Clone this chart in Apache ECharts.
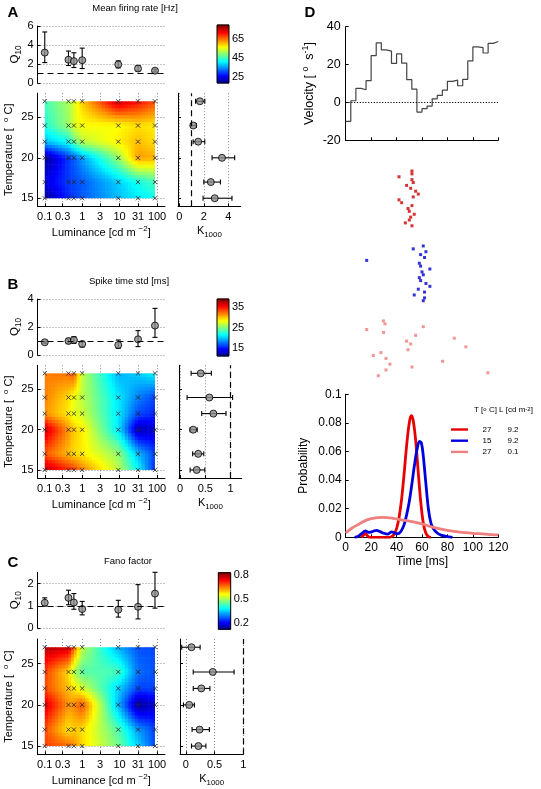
<!DOCTYPE html>
<html><head><meta charset="utf-8">
<script src="https://cdn.jsdelivr.net/npm/echarts@6.0.0/dist/echarts.min.js"></script>
<style>html,body{margin:0;padding:0;background:#fff}#chart{width:541px;height:789px}</style>
</head><body><div id="chart"></div>
<script>
// ================= DATA =================
const luminance = [0.1, 0.43, 0.6, 1, 9.2, 31, 88];
const temperature = [15, 17, 20, 22, 24, 27];
const lumTickValues = [0.1, 0.3, 1, 3, 10, 31, 100];

// A: mean firing rate [Hz]; rows = temperature (15..27), cols = luminance
const rateMap = [
  [20, 29, 30, 32, 38, 41, 43],
  [25, 30, 31, 32, 39, 43, 46],
  [20, 30, 32, 36, 51, 63, 62],
  [38, 43, 48, 53, 58, 61, 59],
  [44, 51, 55, 57, 57, 59, 58],
  [46, 52, 55, 60, 76, 72, 68]
];
const rateQ10 = [3.2, 2.45, 2.3, 2.4, 1.95, 1.52, 1.3];
const rateQ10Low = [2.15, 1.84, 1.63, 1.52, 1.59, 1.27, 1.17];
const rateQ10High = [5.37, 3.36, 3.18, 3.67, 2.33, 1.84, 1.45];
const rateK = [2.89, 2.57, 3.48, 1.54, 1.14, 1.68];
const rateKLow = [1.94, 2.0, 2.67, 1.13, 0.92, 1.33];
const rateKHigh = [4.29, 3.35, 4.51, 2.08, 1.4, 2.08];
const rateCbarRange = [19, 80];
const rateCbarTicks = [25, 45, 65];
const rateQ10Ticks = [0, 2, 4, 6];
const rateKTicks = [0, 2, 4];

// B: spike time std [ms]
const stdMap = [
  [37.6, 34.5, 34, 32, 26.7, 21.6, 15.5],
  [33, 30.3, 29.5, 29, 25.6, 19.7, 16.3],
  [37, 31.4, 30, 29, 21, 12.4, 13.2],
  [31.4, 29, 27.8, 27.2, 21, 16.6, 15.5],
  [32, 29.5, 28, 26.7, 21, 18, 16.3],
  [32, 32.5, 33.4, 26.7, 19.4, 20.2, 21.4]
];
const stdQ10 = [0.91, 1.0, 1.07, 0.79, 0.71, 1.12, 2.1];
const stdQ10Low = [0.84, 0.84, 0.83, 0.57, 0.48, 0.6, 1.26];
const stdQ10High = [0.97, 1.14, 1.31, 0.93, 1.07, 1.74, 3.33];
const stdK = [0.33, 0.36, 0.26, 0.66, 0.58, 0.41];
const stdKLow = [0.2, 0.25, 0.2, 0.43, 0.14, 0.22];
const stdKHigh = [0.49, 0.47, 0.34, 0.91, 1.04, 0.62];
const stdCbarRange = [11, 39];
const stdCbarTicks = [15, 25, 35];
const stdQ10Ticks = [0, 2, 4];
const stdKTicks = [0, 0.5, 1];

// C: Fano factor
const fanoMap = [
  [0.70, 0.67, 0.65, 0.59, 0.47, 0.36, 0.26],
  [0.69, 0.58, 0.60, 0.59, 0.445, 0.32, 0.26],
  [0.77, 0.64, 0.65, 0.69, 0.34, 0.14, 0.18],
  [0.69, 0.61, 0.58, 0.54, 0.36, 0.26, 0.26],
  [0.70, 0.59, 0.51, 0.45, 0.44, 0.29, 0.27],
  [0.795, 0.78, 0.68, 0.52, 0.33, 0.27, 0.26]
];
const fanoQ10 = [1.14, 1.36, 1.15, 0.86, 0.83, 0.96, 1.55];
const fanoQ10Low = [1.0, 1.05, 0.85, 0.6, 0.5, 0.42, 0.9];
const fanoQ10High = [1.36, 1.7, 1.55, 1.2, 1.25, 1.95, 2.5];
const fanoK = [0.22, 0.24, 0.06, 0.27, 0.47, 0.10];
const fanoKLow = [0.10, 0.11, -0.04, 0.13, 0.13, -0.07];
const fanoKHigh = [0.35, 0.41, 0.15, 0.42, 0.84, 0.25];
const fanoCbarRange = [0.125, 0.83];
const fanoCbarTicks = [0.2, 0.5, 0.8];
const fanoQ10Ticks = [0, 1, 2];
const fanoKTicks = [0, 0.5, 1];

// D: stimulus velocity (4 ms bins)
const velBinStart = [0,4,8,12,16,20,24,28,32,36,40,44,48,52,56,60,64,68,72,76,80,84,88,92,96,100,104,108,112,116];
const velBinEnd = 120;
const velocity = [-10.0, 0.9, 7.4, 6.7, 11.5, 24.7, 31.5, 27.8, 27.1, 20.6, 25.6, 20.8, 12.0, 7.0, -5.1, -3.3, -1.9, 1.9, 3.7, 6.5, 11.1, 11.8, 8.8, 12.2, 21.9, 29.3, 28.9, 26.1, 31.2, 32.2];

// D: raster, first-spike times [ms] per trial
const spikesWarmBright = [52.1, 52.1, 41.9, 52.1, 53.1, 47.9, 51.1, 55.0, 57.1, 53.1, 41.9, 44.0, 52.1, 49.0, 50.0, 53.9, 51.1, 50.0, 46.9, 52.1];
const spikesColdBright = [61.0, 53.1, 63.1, 58.9, 62.0, 16.5, 57.9, 58.9, 66.2, 60.0, 61.0, 57.9, 58.9, 63.1, 66.2, 57.1, 62.0, 53.9, 62.0, 61.0];
const spikesWarmDim = [29.6, 30.9, 61.0, 16.5, 29.8, 55.0, 85.4, 47.9, 51.1, 94.5, 49.0, 27.7, 21.7, 31.7, 76.2, 34.8, 52.1, 31.7, 111.8, 25.6];
const rowsWarmBright = [0,1,2,3,4,5,6,7,8,9,10,11,12,13,14,15,16,17,18,19];
const rowsColdBright = [26,27,28,29,30,31,32,33,34,35,36,37,38,39,40,41,42,43,44,45];
const rowsWarmDim = [52,53,54,55,56,57,58,59,60,61,62,63,64,65,66,67,68,69,70,71];

// D: spike-time probability
const probTimeWarmBright = [12, 14, 15.5, 17, 19, 35, 36, 38, 40, 42, 44, 46, 48, 50, 51.5, 53, 55, 57, 59, 61, 63, 65, 67];
const probWarmBright = [0, 0.0015, 0.0025, 0.0012, 0, 0, 0.0005, 0.002, 0.006, 0.014, 0.027, 0.045, 0.065, 0.080, 0.085, 0.082, 0.068, 0.046, 0.025, 0.010, 0.003, 0.0005, 0];
const probTimeColdBright = [7, 10, 13, 15.5, 18, 21, 24, 27, 30, 33, 36, 38, 40, 42, 44, 46, 48, 50, 52, 54, 56, 58, 59.5, 61, 63, 65, 67, 69, 72, 75, 79, 84];
const probColdBright = [0, 0.0008, 0.003, 0.0045, 0.0035, 0.004, 0.0048, 0.004, 0.0028, 0.0022, 0.0038, 0.0033, 0.0025, 0.0028, 0.005, 0.009, 0.016, 0.025, 0.037, 0.050, 0.061, 0.067, 0.066, 0.057, 0.038, 0.020, 0.010, 0.006, 0.003, 0.0015, 0.0006, 0];
const probTimeWarmDim = [0, 5, 10, 15, 20, 25, 30, 35, 40, 45, 50, 55, 60, 65, 70, 75, 80, 85, 90, 95, 100, 105, 110, 115, 120];
const probWarmDim = [0.003, 0.0065, 0.009, 0.0115, 0.013, 0.0138, 0.014, 0.0136, 0.0128, 0.012, 0.0113, 0.0105, 0.0094, 0.008, 0.0067, 0.0057, 0.0048, 0.0041, 0.0036, 0.0032, 0.0028, 0.0025, 0.0022, 0.0019, 0.0017];
const legendT = ['27', '15', '27'];
const legendL = ['9.2', '9.2', '0.1'];

// ================= STYLE / LAYOUT =================
const FONT = 'Liberation Sans';
const LUM_MIN = 0.064, LUM_MAX = 163;
const panels = [
  {letter:'A', title:'Mean firing rate [Hz]', map:rateMap, q10:rateQ10, q10Lo:rateQ10Low, q10Hi:rateQ10High, k:rateK, kLo:rateKLow, kHi:rateKHigh,
   cbar:rateCbarRange, cbarTicks:rateCbarTicks, q10Ticks:rateQ10Ticks, q10Max:6, kTicks:rateKTicks, kMin:-0.1, kMax:5,
   L:{letter:[13,13], title:[135,8], q10:[26,57], heat:[93.2,113.1], k:[178,62.7], cb:[217,25,12,58]}},
  {letter:'B', title:'Spike time std [ms]', map:stdMap, q10:stdQ10, q10Lo:stdQ10Low, q10Hi:stdQ10High, k:stdK, kLo:stdKLow, kHi:stdKHigh,
   cbar:stdCbarRange, cbarTicks:stdCbarTicks, q10Ticks:stdQ10Ticks, q10Max:4, kTicks:stdKTicks, kMin:-0.02, kMax:1.22,
   L:{letter:[13,285], title:[129,281.5], q10:[299,56], heat:[365.3,112.7], k:[179,62.7], cb:[217,299,12,57]}},
  {letter:'C', title:'Fano factor', map:fanoMap, q10:fanoQ10, q10Lo:fanoQ10Low, q10Hi:fanoQ10High, k:fanoK, kLo:fanoKLow, kHi:fanoKHigh,
   cbar:fanoCbarRange, cbarTicks:fanoCbarTicks, q10Ticks:fanoQ10Ticks, q10Max:2.5, kTicks:fanoKTicks, kMin:-0.1, kMax:1.0,
   L:{letter:[13,563], title:[128,561], q10:[572.3,56], heat:[639,115.3], k:[180,63.3], cb:[218.3,572.7,12.4,56.6]}}
];

function jet(t) {
  t = Math.max(0, Math.min(1, t));
  const c = v => Math.round(255 * Math.max(0, Math.min(1, v)));
  return 'rgb(' + c(1.5 - Math.abs(4*t - 3)) + ',' + c(1.5 - Math.abs(4*t - 2)) + ',' + c(1.5 - Math.abs(4*t - 1)) + ')';
}
const rich = fs => ({
  sub: {fontSize: fs*0.72, lineHeight: fs*0.72, verticalAlign: 'bottom', fontFamily: FONT, color: '#000'},
  sup: {fontSize: fs*0.72, lineHeight: fs*0.72, verticalAlign: 'top', fontFamily: FONT, color: '#000'}
});
const nameStyle = (fs, lh) => ({fontSize: fs, lineHeight: lh, color: '#000', fontFamily: FONT, rich: rich(fs)});
const AX = {color: '#000', width: 1};
const labelStyle = (fs, margin) => ({fontSize: fs, color: '#000', fontFamily: FONT, margin: margin});
const dotted = {show: true, lineStyle: {type: [1, 2], color: '#8a8a8a', width: 1}};
const fmtNum = v => String(+(+v).toPrecision(3));

const grids = [], xAxes = [], yAxes = [], series = [], graphic = [];
function addGrid(left, top, width, height) {
  grids.push({left, top, width, height, containLabel: false, outerBoundsMode: 'none'});
  return grids.length - 1;
}

function vErr(gi, xs, lo, hi) {
  return {type: 'custom', xAxisIndex: gi, yAxisIndex: gi, silent: true, z: 3,
    data: xs.map((x, i) => [x, lo[i], hi[i]]), encode: {x: 0, y: [1, 2]},
    renderItem: (p, api) => {
      const a = api.coord([api.value(0), api.value(1)]), b = api.coord([api.value(0), api.value(2)]);
      const st = {stroke: '#000', lineWidth: 1.1};
      return {type: 'group', children: [
        {type: 'line', shape: {x1: a[0], y1: a[1], x2: b[0], y2: b[1]}, style: st},
        {type: 'line', shape: {x1: a[0]-2.5, y1: a[1], x2: a[0]+2.5, y2: a[1]}, style: st},
        {type: 'line', shape: {x1: b[0]-2.5, y1: b[1], x2: b[0]+2.5, y2: b[1]}, style: st}]};
    }};
}
function hErr(gi, ys, lo, hi) {
  return {type: 'custom', xAxisIndex: gi, yAxisIndex: gi, silent: true, z: 3,
    data: ys.map((y, i) => [lo[i], hi[i], y]), encode: {x: [0, 1], y: 2},
    renderItem: (p, api) => {
      const a = api.coord([api.value(0), api.value(2)]), b = api.coord([api.value(1), api.value(2)]);
      const st = {stroke: '#000', lineWidth: 1.1};
      return {type: 'group', children: [
        {type: 'line', shape: {x1: a[0], y1: a[1], x2: b[0], y2: b[1]}, style: st},
        {type: 'line', shape: {x1: a[0], y1: a[1]-2.5, x2: a[0], y2: a[1]+2.5}, style: st},
        {type: 'line', shape: {x1: b[0], y1: b[1]-2.5, x2: b[0], y2: b[1]+2.5}, style: st}]};
    }};
}
const pointStyle = {color: '#8c8c8c', borderColor: '#000', borderWidth: 1};

panels.forEach(P => {
  const L = P.L;
  // ---- Q10 ----
  const gQ = addGrid(37.5, L.q10[0], 127.5, L.q10[1]);
  xAxes.push({type: 'log', logBase: 10, gridIndex: gQ, min: LUM_MIN, max: LUM_MAX,
    axisLine: {show: false}, axisTick: {show: false}, axisLabel: {show: false}, splitLine: {show: false}});
  yAxes.push({type: 'value', gridIndex: gQ, min: 0, max: P.q10Max,
    axisLine: {show: true, lineStyle: AX}, axisTick: {show: true, inside: true, length: 3, lineStyle: AX, customValues: P.q10Ticks},
    axisLabel: Object.assign(labelStyle(11, 4), {customValues: P.q10Ticks, formatter: fmtNum}),
    splitLine: dotted,
    name: 'Q{sub|10}', nameLocation: 'middle', nameRotate: 90, nameGap: 14.5, nameTextStyle: nameStyle(11.5, 16)});
  series.push(vErr(gQ, luminance, P.q10Lo, P.q10Hi));
  series.push({type: 'scatter', xAxisIndex: gQ, yAxisIndex: gQ, z: 4, silent: true, symbol: 'circle', symbolSize: 7,
    itemStyle: pointStyle, data: luminance.map((l, i) => [l, P.q10[i]]),
    markLine: {silent: true, symbol: ['none', 'none'], label: {show: false}, animation: false,
      lineStyle: {type: [6, 4], color: '#000', width: 1.2}, data: [{yAxis: 1}]}});

  // ---- heatmap ----
  const gH = addGrid(37.5, L.heat[0], 127.5, L.heat[1]);
  xAxes.push({type: 'log', logBase: 10, gridIndex: gH, min: LUM_MIN, max: LUM_MAX,
    axisLine: {show: true, lineStyle: AX}, axisTick: {show: true, inside: true, length: 3, lineStyle: AX, customValues: lumTickValues},
    axisLabel: Object.assign(labelStyle(11, 5), {customValues: lumTickValues, formatter: fmtNum}),
    splitLine: dotted,
    name: 'Luminance [cd m {sup|−2}]', nameLocation: 'middle', nameGap: 19, nameTextStyle: nameStyle(11, 16)});
  yAxes.push({type: 'value', gridIndex: gH, min: 14, max: 28,
    axisLine: {show: true, lineStyle: AX}, axisTick: {show: true, inside: true, length: 3, lineStyle: AX, customValues: [15, 20, 25]},
    axisLabel: Object.assign(labelStyle(11, 4), {customValues: [15, 20, 25]}),
    splitLine: dotted,
    name: 'Temperature [  {sup|o} C]', nameLocation: 'middle', nameRotate: 90, nameGap: 14.5, nameTextStyle: nameStyle(11, 16)});
  const cells = [];
  temperature.forEach((t, r) => luminance.forEach((l, c) => cells.push([l, t, P.map[r][c], c, r])));
  const map = P.map, cb = P.cbar;
  series.push({type: 'custom', xAxisIndex: gH, yAxisIndex: gH, silent: true, z: 2, data: cells, encode: {x: 0, y: 1},
    renderItem: (params, api) => {
      const c = api.value(3), r = api.value(4);
      if (c >= luminance.length - 1 || r >= temperature.length - 1) return;
      const v00 = map[r][c], v10 = map[r][c+1], v01 = map[r+1][c], v11 = map[r+1][c+1];
      const p0 = api.coord([luminance[c], temperature[r]]), p1 = api.coord([luminance[c+1], temperature[r+1]]);
      const nx = Math.max(1, Math.round(Math.abs(p1[0] - p0[0]) / 3.3));
      const ny = Math.max(1, Math.round(Math.abs(p1[1] - p0[1]) / 3.3));
      const lastC = c === luminance.length - 2, lastR = r === temperature.length - 2;
      const children = [];
      for (let i = 0; i < nx; i++) for (let j = 0; j < ny; j++) {
        const fx = (i + 0.5) / nx, fy = (j + 0.5) / ny;
        const v = (1-fx)*(1-fy)*v00 + fx*(1-fy)*v10 + (1-fx)*fy*v01 + fx*fy*v11;
        const xa = p0[0] + (p1[0]-p0[0]) * i / nx, xb = p0[0] + (p1[0]-p0[0]) * (i+1) / nx;
        const ya = p0[1] + (p1[1]-p0[1]) * j / ny, yb = p0[1] + (p1[1]-p0[1]) * (j+1) / ny;
        const ox = (lastC && i === nx-1) ? 0 : 0.6, oy = (lastR && j === ny-1) ? 0 : 0.6;
        children.push({type: 'rect', shape: {x: Math.min(xa, xb), y: Math.min(ya, yb) - oy, width: Math.abs(xb-xa) + ox, height: Math.abs(yb-ya) + oy},
          style: {fill: jet((v - cb[0]) / (cb[1] - cb[0]))}});
      }
      return {type: 'group', children};
    }});
  series.push({type: 'custom', xAxisIndex: gH, yAxisIndex: gH, silent: true, z: 3, data: cells.map(d => [d[0], d[1]]), encode: {x: 0, y: 1},
    renderItem: (params, api) => {
      const p = api.coord([api.value(0), api.value(1)]);
      const st = {stroke: '#222', lineWidth: 0.8};
      const s = 2.1;
      return {type: 'group', children: [
        {type: 'line', shape: {x1: p[0]-s, y1: p[1]-s, x2: p[0]+s, y2: p[1]+s}, style: st},
        {type: 'line', shape: {x1: p[0]-s, y1: p[1]+s, x2: p[0]+s, y2: p[1]-s}, style: st}]};
    }});

  // ---- K1000 ----
  const gK = addGrid(L.k[0], L.heat[0], L.k[1], L.heat[1]);
  xAxes.push({type: 'value', gridIndex: gK, min: P.kMin, max: P.kMax,
    axisLine: {show: true, onZero: false, lineStyle: AX}, axisTick: {show: true, inside: true, length: 3, lineStyle: AX, customValues: P.kTicks},
    axisLabel: Object.assign(labelStyle(11, 5), {customValues: P.kTicks, formatter: fmtNum}),
    splitLine: dotted,
    name: 'K{sub|1000}', nameLocation: 'middle', nameGap: 16, nameTextStyle: nameStyle(11, 16)});
  yAxes.push({type: 'value', gridIndex: gK, min: 14, max: 28,
    axisLine: {show: true, onZero: false, lineStyle: AX}, axisTick: {show: true, inside: true, length: 3, lineStyle: AX, customValues: [15, 20, 25]},
    axisLabel: {show: false}, splitLine: {show: false}});
  series.push(hErr(gK, temperature, P.kLo, P.kHi));
  series.push({type: 'scatter', xAxisIndex: gK, yAxisIndex: gK, z: 4, silent: true, symbol: 'circle', symbolSize: 7,
    itemStyle: pointStyle, data: temperature.map((t, i) => [P.k[i], t]),
    markLine: {silent: true, symbol: ['none', 'none'], label: {show: false}, animation: false,
      lineStyle: {type: [6, 4], color: '#000', width: 1.2}, data: [{xAxis: 1}]}});

  // ---- colorbar ----
  const gC = addGrid(L.cb[0], L.cb[1], L.cb[2], L.cb[3]);
  xAxes.push({type: 'value', gridIndex: gC, min: 0, max: 1, show: false});
  yAxes.push({type: 'value', gridIndex: gC, min: cb[0], max: cb[1], position: 'right',
    axisLine: {show: false}, axisTick: {show: false, customValues: P.cbarTicks},
    axisLabel: Object.assign(labelStyle(11, 3), {customValues: P.cbarTicks, formatter: fmtNum}), splitLine: {show: false}});
  series.push({type: 'custom', xAxisIndex: gC, yAxisIndex: gC, silent: true, z: 2, data: [[0, 1, cb[0], cb[1]]], encode: {x: [0, 1], y: [2, 3]},
    renderItem: (params, api) => {
      const lo = api.value(2), hi = api.value(3), n = 48, children = [];
      const a = api.coord([api.value(0), lo]), b = api.coord([api.value(1), hi]);
      for (let i = 0; i < n; i++) {
        const y0 = a[1] + (b[1] - a[1]) * i / n, y1 = a[1] + (b[1] - a[1]) * (i + 1) / n;
        children.push({type: 'rect', shape: {x: a[0], y: Math.min(y0, y1) - 0.4, width: b[0] - a[0], height: Math.abs(y1 - y0) + 0.8},
          style: {fill: jet((i + 0.5) / n)}});
      }
      children.push({type: 'rect', shape: {x: a[0], y: b[1], width: b[0] - a[0], height: a[1] - b[1]}, style: {fill: 'none', stroke: '#000', lineWidth: 1}});
      return {type: 'group', children};
    }});

  graphic.push({type: 'text', x: L.letter[0], y: L.letter[1], style: {text: P.letter, fontSize: 15, fontWeight: 'bold', fontFamily: FONT, fill: '#000', align: 'center', verticalAlign: 'middle'}});
  graphic.push({type: 'text', x: L.title[0], y: L.title[1], style: {text: P.title, fontSize: 9.5, fontFamily: FONT, fill: '#000', align: 'center', verticalAlign: 'middle'}});
});

// ---- D: velocity ----
const T_LEFT = 345.7, T_WIDTH = 152.6;
const gV = addGrid(T_LEFT, 26.7, T_WIDTH, 113.6);
xAxes.push({type: 'value', gridIndex: gV, min: 0, max: 120, interval: 20,
  axisLine: {show: true, onZero: false, lineStyle: AX}, axisTick: {show: true, inside: true, length: 3, lineStyle: AX},
  axisLabel: {show: false}, splitLine: {show: false}});
yAxes.push({type: 'value', gridIndex: gV, min: -20, max: 40, interval: 20,
  axisLine: {show: true, lineStyle: AX}, axisTick: {show: true, inside: true, length: 3, lineStyle: AX},
  axisLabel: labelStyle(12.5, 5), splitLine: {show: false},
  name: 'Velocity [ {sup|o}  s{sup|-1}]', nameLocation: 'middle', nameRotate: 90, nameGap: 27, nameTextStyle: nameStyle(12.5, 18)});
series.push({type: 'line', xAxisIndex: gV, yAxisIndex: gV, step: 'end', symbol: 'none', silent: true,
  lineStyle: {color: '#444', width: 1.2},
  data: velBinStart.map((t, i) => [t, velocity[i]]).concat([[velBinEnd, velocity[velocity.length - 1]]]),
  markLine: {silent: true, symbol: ['none', 'none'], label: {show: false}, animation: false,
    lineStyle: {type: [1.2, 1.6], color: '#000', width: 1}, data: [{yAxis: 0}]}});

// ---- D: raster ----
const gR = addGrid(T_LEFT, 171, T_WIDTH, 204.7);
xAxes.push({type: 'value', gridIndex: gR, min: 0, max: 120, show: false});
yAxes.push({type: 'value', gridIndex: gR, min: 0, max: 71, inverse: true, show: false});
[[spikesWarmBright, rowsWarmBright, '#cc0000'], [spikesColdBright, rowsColdBright, '#0000cc'], [spikesWarmDim, rowsWarmDim, '#ee7a7a']].forEach(([s, r, col]) => {
  series.push({type: 'scatter', xAxisIndex: gR, yAxisIndex: gR, silent: true, symbol: 'rect', symbolSize: 3,
    itemStyle: {color: col}, data: s.map((t, i) => [t, r[i]])});
});

// ---- D: probability ----
const gP = addGrid(T_LEFT, 394.3, T_WIDTH, 143);
xAxes.push({type: 'value', gridIndex: gP, min: 0, max: 120, interval: 20,
  axisLine: {show: true, onZero: false, lineStyle: AX}, axisTick: {show: true, inside: true, length: 3, lineStyle: AX},
  axisLabel: labelStyle(12, 4), splitLine: {show: false},
  name: 'Time [ms]', nameLocation: 'middle', nameGap: 17.5, nameTextStyle: nameStyle(12, 14)});
yAxes.push({type: 'value', gridIndex: gP, min: 0, max: 0.1, interval: 0.02,
  axisLine: {show: true, lineStyle: AX}, axisTick: {show: true, inside: true, length: 3, lineStyle: AX},
  axisLabel: labelStyle(12, 4), splitLine: {show: false},
  name: 'Probability', nameLocation: 'middle', nameRotate: 90, nameGap: 35, nameTextStyle: nameStyle(12, 14)});
const probSeries = [
  [probTimeWarmBright, probWarmBright, '#e60000'],
  [probTimeColdBright, probColdBright, '#0000dd'],
  [probTimeWarmDim, probWarmDim, '#f08080']
];
const legendNames = legendT.map((t, i) => t + ' / ' + legendL[i]);
probSeries.forEach(([tt, pp, col], i) => {
  series.push({type: 'line', name: legendNames[i], xAxisIndex: gP, yAxisIndex: gP, symbol: 'none', silent: true, smooth: 0.35,
    lineStyle: {color: col, width: 2.8}, itemStyle: {color: col}, data: tt.map((t, j) => [t, pp[j]])});
});
graphic.push({type: 'text', x: 310, y: 13, style: {text: 'D', fontSize: 15, fontWeight: 'bold', fontFamily: FONT, fill: '#000', align: 'center', verticalAlign: 'middle'}});
graphic.push({type: 'text', x: 474, y: 410, style: {text: 'T [{s|o} C] L [cd m{s|-2}]', fontSize: 8, fontFamily: FONT, fill: '#000', align: 'left', verticalAlign: 'middle',
  rich: {s: {fontSize: 6, lineHeight: 6, verticalAlign: 'top', fontFamily: FONT, fill: '#000'}}}});

const option = {
  animation: false,
  backgroundColor: '#fff',
  textStyle: {fontFamily: FONT},
  grid: grids, xAxis: xAxes, yAxis: yAxes, series: series, graphic: graphic,
  legend: {show: true, orient: 'vertical', left: 451, top: 424.5, padding: 0, itemWidth: 17, itemHeight: 2.4, itemGap: 1.2,
    selectedMode: false, data: legendNames, icon: 'rect',
    formatter: name => { const parts = name.split(' / '); return '{a|' + parts[0] + '}{b|' + parts[1] + '}'; },
    textStyle: {fontSize: 8, lineHeight: 10, color: '#000', fontFamily: FONT, padding: [0, 0, 0, 0],
      rich: {a: {width: 28, align: 'center', fontSize: 8, lineHeight: 10, fontFamily: FONT}, b: {width: 24, align: 'center', fontSize: 8, lineHeight: 10, fontFamily: FONT}}}}
};
const chart = echarts.init(document.getElementById('chart'), null, {renderer: 'canvas'});
chart.setOption(option);
</script>
</body></html>
